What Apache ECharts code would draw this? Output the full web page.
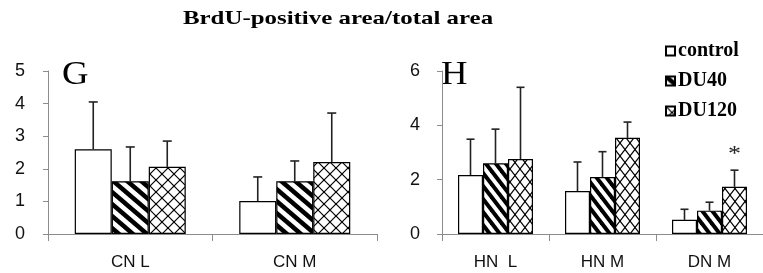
<!DOCTYPE html>
<html>
<head>
<meta charset="utf-8">
<script src="https://cdn.jsdelivr.net/npm/echarts@6/dist/echarts.min.js"></script>
<style>
  html, body { margin: 0; padding: 0; background: #fff; }
  #chart { width: 763px; height: 273px; }
</style>
</head>
<body>
<div id="chart"></div>
<script>
  // panel G
  const gCategories = ['CN L', 'CN M']
  const gControl = [2.60, 1.01]
  const gControlSd = [1.45, 0.74]
  const gDU40 = [1.62, 1.62]
  const gDU40Sd = [1.05, 0.62]
  const gDU120 = [2.06, 2.21]
  const gDU120Sd = [0.79, 1.50]
  const gYMax = 5
  const gYStep = 1

  // panel H
  const hCategories = ['HN  L', 'HN M', 'DN M']
  const hControl = [2.17, 1.58, 0.52]
  const hControlSd = [1.32, 1.07, 0.39]
  const hDU40 = [2.60, 2.10, 0.86]
  const hDU40Sd = [1.26, 0.93, 0.31]
  const hDU120 = [2.76, 3.54, 1.74]
  const hDU120Sd = [2.64, 0.58, 0.61]
  const hDU120Marks = ['', '', '*']
  const hYMax = 6
  const hYStep = 2

  const groupNames = ['control', 'DU40', 'DU120']
  const titleText = 'BrdU-positive area/total area'

  // hatch patterns
  function stripes(w, h, lw){
    let c = document.createElement('canvas')
    c.width = w; c.height = h
    let ctx = c.getContext('2d')
    ctx.fillStyle = '#fff'
    ctx.fillRect(0, 0, w, h)
    ctx.strokeStyle = '#000'
    ctx.lineWidth = lw
    for(let k = -1; k <= 1; k++){
      ctx.beginPath()
      ctx.moveTo(k * w - w, -h)
      ctx.lineTo(k * w + 2 * w, 2 * h)
      ctx.stroke()
    }
    return { image: c, repeat: 'repeat' }
  }
  function cross(w, h, lw){
    let c = document.createElement('canvas')
    c.width = w; c.height = h
    let ctx = c.getContext('2d')
    ctx.fillStyle = '#fff'
    ctx.fillRect(0, 0, w, h)
    ctx.strokeStyle = '#000'
    ctx.lineWidth = lw
    for(let k = -1; k <= 1; k++){
      ctx.beginPath()
      ctx.moveTo(k * w - w, -h)
      ctx.lineTo(k * w + 2 * w, 2 * h)
      ctx.stroke()
      ctx.beginPath()
      ctx.moveTo(k * w + 2 * w, -h)
      ctx.lineTo(k * w - w, 2 * h)
      ctx.stroke()
    }
    return { image: c, repeat: 'repeat' }
  }

  const gFills = ['#fff', stripes(14, 12, 4.5), cross(12, 12, 1.2)]
  const hFills = ['#fff', stripes(10, 13, 4), cross(10, 13, 1.2)]

  const font = 'Liberation Sans'
  const serif = 'Liberation Serif'
  const axisGrey = '#8c8c8c'

  function barSeries(name, data, fill, axisIndex, bw){
    return {
      name: name,
      type: 'bar',
      xAxisIndex: axisIndex,
      yAxisIndex: axisIndex,
      barWidth: bw,
      barGap: '0%',
      data: data,
      itemStyle: { color: fill, borderColor: '#000', borderWidth: 1.2 },
      emphasis: { disabled: true },
      z: 2
    }
  }

  function errSeries(means, sds, marks, axisIndex, offset, cap){
    let data = means.map((m, i) => [i, m, sds[i], marks ? marks[i] : ''])
    return {
      type: 'custom',
      xAxisIndex: axisIndex,
      yAxisIndex: axisIndex,
      data: data,
      silent: true,
      z: 1,
      renderItem(params, api){
        let idx = api.value(0)
        let mean = api.value(1)
        let sd = api.value(2)
        let mark = data[params.dataIndex][3]
        let x = api.coord([idx, 0])[0] + offset
        let yb = api.coord([idx, mean])[1]
        let yt = api.coord([idx, mean + sd])[1]
        let st = { stroke: '#222', lineWidth: 1.6 }
        let children = [
          { type: 'line', shape: { x1: x, y1: yb, x2: x, y2: yt }, style: st },
          { type: 'line', shape: { x1: x - cap, y1: yt, x2: x + cap, y2: yt }, style: st }
        ]
        if(mark){
          children.push({
            type: 'text',
            x: x, y: yt - 5,
            scaleX: 1.3,
            style: { text: mark, fill: '#222', font: '20px ' + serif, align: 'center', verticalAlign: 'bottom' }
          })
        }
        return { type: 'group', children: children }
      }
    }
  }

  const gBw = 37
  const hBw = 25

  function yAxisOf(index, max, step, margin){
    return {
      type: 'value',
      gridIndex: index,
      min: 0,
      max: max,
      interval: step,
      splitLine: { show: false },
      axisLine: { show: true, lineStyle: { color: axisGrey, width: 1 } },
      axisTick: { show: true, length: 5, lineStyle: { color: axisGrey } },
      axisLabel: { color: '#111', fontFamily: font, fontSize: 18, margin: margin }
    }
  }
  function xAxisOf(index, cats){
    return {
      type: 'category',
      gridIndex: index,
      data: cats,
      axisLine: { lineStyle: { color: axisGrey, width: 1 } },
      axisTick: { show: true, length: 7, interval: 0, lineStyle: { color: axisGrey } },
      axisLabel: { color: '#111', fontFamily: font, fontSize: 17, margin: 20, interval: 0 }
    }
  }

  let myChart = echarts.init(document.getElementById('chart'), null, { renderer: 'canvas' })

  let option = {
    animation: false,
    backgroundColor: '#fff',
    legend: {
      orient: 'vertical',
      left: 660,
      top: 36,
      itemWidth: 9,
      itemHeight: 9,
      itemGap: 10,
      icon: 'rect',
      data: groupNames,
      selectedMode: false,
      textStyle: { fontFamily: serif, fontWeight: 'bold', fontSize: 20, color: '#000', padding: [0, 0, 0, -2] }
    },
    grid: [
      { left: 48, top: 71, width: 329, bottom: 39 },
      { left: 442, top: 71, width: 330, bottom: 39 }
    ],
    xAxis: [xAxisOf(0, gCategories), xAxisOf(1, hCategories)],
    yAxis: [yAxisOf(0, gYMax, gYStep, 23), yAxisOf(1, hYMax, hYStep, 22)],
    graphic: [
      {
        type: 'text', x: 338, y: 19, scaleX: 1.31,
        style: { text: titleText, font: 'bold 19px ' + serif, fill: '#000', align: 'center', verticalAlign: 'middle' }
      },
      {
        type: 'text', x: 62, y: 75, scaleX: 1.08,
        style: { text: 'G', font: '34px ' + serif, fill: '#000', align: 'left', verticalAlign: 'middle' }
      },
      {
        type: 'text', x: 441, y: 75, scaleX: 1.08,
        style: { text: 'H', font: '34px ' + serif, fill: '#000', align: 'left', verticalAlign: 'middle' }
      }
    ],
    series: [
      barSeries(groupNames[0], gControl, gFills[0], 0, gBw),
      barSeries(groupNames[1], gDU40, gFills[1], 0, gBw),
      barSeries(groupNames[2], gDU120, gFills[2], 0, gBw),
      barSeries(groupNames[0], hControl, hFills[0], 1, hBw),
      barSeries(groupNames[1], hDU40, hFills[1], 1, hBw),
      barSeries(groupNames[2], hDU120, hFills[2], 1, hBw),
      errSeries(gControl, gControlSd, null, 0, -gBw, 4.5),
      errSeries(gDU40, gDU40Sd, null, 0, 0, 4.5),
      errSeries(gDU120, gDU120Sd, null, 0, gBw, 4.5),
      errSeries(hControl, hControlSd, null, 1, -hBw, 4),
      errSeries(hDU40, hDU40Sd, null, 1, 0, 4),
      errSeries(hDU120, hDU120Sd, hDU120Marks, 1, hBw, 4)
    ]
  }

  myChart.setOption(option)
</script>
</body>
</html>
